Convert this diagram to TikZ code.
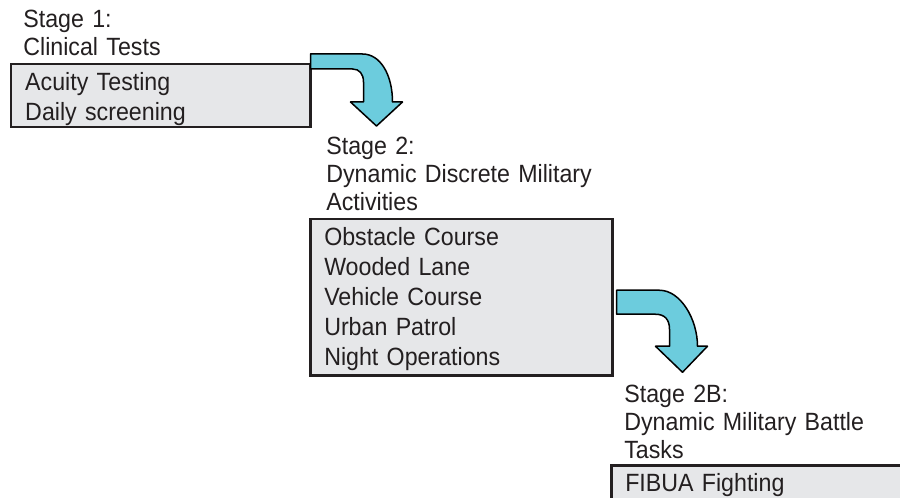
\documentclass[tikz,border=0pt]{standalone}
\usepackage{fontspec}
\setmainfont{Liberation Sans}[FakeStretch=0.93]
\usepackage{tikz}

\definecolor{stageline}{RGB}{35,31,32}
\definecolor{stagefill}{RGB}{230,231,233}
\definecolor{bendfill}{RGB}{108,204,221}

\begin{document}
\begin{tikzpicture}[
    heading/.style={rectangle, anchor=north west, inner sep=0pt, text width=6cm, align=left,
                    font=\fontsize{14.2pt}{15.9pt}\selectfont, text=stageline},
    listbox/.style={rectangle, anchor=north west, draw=stageline, fill=stagefill, line width=0.05cm,
                    inner xsep=0.28cm, inner ysep=0.06cm, text height=0.46cm, align=left,
                    font=\fontsize{14.2pt}{17.07pt}\selectfont, text=stageline},
    bentarrow/.style={draw=black, fill=bendfill, line width=0.03cm, line join=round}
]
\useasboundingbox (0,0) rectangle (18cm,-9.96cm);
\clip (0,0) rectangle (18cm,-9.96cm);
% stage headings
\node[heading] (H1)  at (0.46cm,-0.20cm)  {Stage 1:\\Clinical Tests};
\node[heading] (H2)  at (6.52cm,-2.74cm)  {Stage 2:\\Dynamic Discrete Military\\Activities};
\node[heading] (H2B) at (12.48cm,-7.70cm) {Stage 2B:\\Dynamic Military Battle\\Tasks};
% activity boxes under each heading
\node[listbox, text width=5.42cm, text depth=0.68cm] (B1) at (0.20cm,-1.26cm)
    {Acuity Testing\\Daily screening};
\node[listbox, text width=5.48cm, text depth=2.54cm] (B2) at (6.18cm,-4.36cm)
    {Obstacle Course\\Wooded Lane\\Vehicle Course\\Urban Patrol\\Night Operations};
\node[listbox, text width=6.50cm, text depth=0.80cm] (B2B) at (12.20cm,-9.28cm)
    {FIBUA Fighting};
% bent arrows stage 1 -> stage 2 -> stage 2B
\begin{scope}[shift={(B1.north east)}]
\draw[bentarrow] (-0.02,0.18) -- (1.02,0.18) .. controls (1.38,0.18) and (1.62,-0.24) .. (1.62,-0.78)
    -- (1.82,-0.78) -- (1.30,-1.26) -- (0.78,-0.78) -- (1.04,-0.78) -- (1.04,-0.38)
    .. controls (1.04,-0.22) and (0.96,-0.12) .. (0.82,-0.12) -- (-0.02,-0.12) -- cycle;
\end{scope}
\begin{scope}[shift={(B2.east)}]
\draw[bentarrow] (0.06,0.14) -- (0.92,0.14) .. controls (1.34,0.14) and (1.68,-0.44) .. (1.68,-0.98)
    -- (1.88,-0.98) -- (1.38,-1.50) -- (0.84,-0.98) -- (1.12,-0.98) -- (1.12,-0.64)
    .. controls (1.12,-0.44) and (1.02,-0.34) .. (0.84,-0.34) -- (0.06,-0.34) -- cycle;
\end{scope}
\end{tikzpicture}
\end{document}
